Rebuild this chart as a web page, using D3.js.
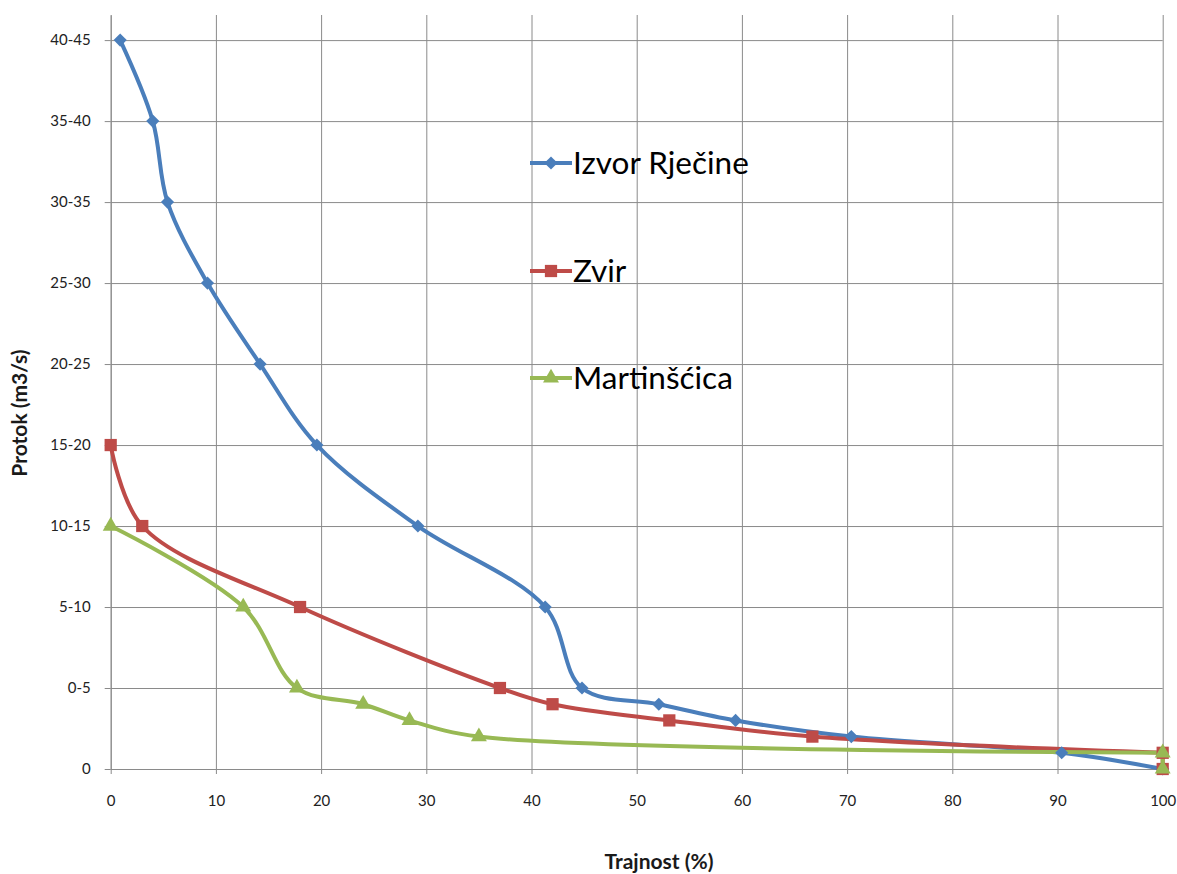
<!DOCTYPE html>
<html>
<head>
<meta charset="utf-8">
<script src="https://cdn.jsdelivr.net/npm/d3@7"></script>
<style>
  html, body { margin: 0; padding: 0; background: #ffffff; }
  svg { display: block; }
  .tick text { font-family: Lato, "Open Sans", sans-serif; font-size: 15px; fill: #222; }
</style>
</head>
<body>
<script>
// Flow duration curves: share of time (%) a flow class is reached, per spring
const seriesNames = ["Izvor Rječine", "Zvir", "Martinšćica"];

const izvorX = [0.9, 4.0, 5.4, 9.2, 14.2, 19.6, 29.2, 41.3, 44.8, 52.1, 59.4, 70.4, 90.4, 100];
const izvorY = [9, 8, 7, 6, 5, 4, 3, 2, 1, 0.8, 0.6, 0.4, 0.2, 0];

const zvirX = [0, 3.0, 18.0, 37.0, 42.0, 53.1, 66.7, 100, 100];
const zvirY = [4, 3, 2, 1, 0.8, 0.6, 0.4, 0.2, 0];

const martX = [0, 12.6, 17.7, 24.0, 28.4, 35.0, 100, 100];
const martY = [3, 2, 1, 0.8, 0.6, 0.4, 0.2, 0];

const flowClassLabels = ["0", "0-5", "5-10", "10-15", "15-20", "20-25", "25-30", "30-35", "35-40", "40-45"];
const durationTicks = [0, 10, 20, 30, 40, 50, 60, 70, 80, 90, 100];

const width = 1177, height = 874;
const margin = { left: 110.7, right: 14.3, top: 15, bottom: 105 };

const svg = d3.select("body").append("svg")
  .attr("width", width).attr("height", height);

const x = d3.scaleLinear().domain([0, 100]).range([margin.left, width - margin.right]);
const y = d3.scaleLinear().domain([0, 9.31]).range([height - margin.bottom, margin.top]);

const gridColor = "#8a8a8a";
const fontFamily = "Lato, 'Open Sans', sans-serif";

// vertical grid + x axis
const xAxis = svg.append("g")
  .attr("transform", `translate(0,${y(0)})`)
  .call(d3.axisBottom(x).tickValues(durationTicks).tickSizeInner(-(y(0) - margin.top)).tickSizeOuter(0).tickPadding(0));
xAxis.select(".domain").attr("stroke", gridColor);
xAxis.selectAll(".tick line").attr("stroke", gridColor);
xAxis.selectAll(".tick").append("line")
  .attr("y1", 0).attr("y2", 5).attr("stroke", gridColor);
xAxis.selectAll(".tick text").attr("dy", null).attr("y", 37);

// horizontal grid + y axis
const yAxis = svg.append("g")
  .attr("transform", `translate(${x(0)},0)`)
  .call(d3.axisLeft(y).tickValues(d3.range(flowClassLabels.length))
    .tickFormat(i => flowClassLabels[i])
    .tickSizeInner(-(x(100) - x(0))).tickSizeOuter(0).tickPadding(0));
yAxis.select(".domain").attr("stroke", gridColor);
yAxis.selectAll(".tick line").attr("stroke", gridColor);
yAxis.selectAll(".tick").append("line")
  .attr("x1", 0).attr("x2", -6).attr("stroke", gridColor);
yAxis.selectAll(".tick text").attr("x", -20);

// axis titles
svg.append("text")
  .attr("x", 659).attr("y", 869)
  .attr("text-anchor", "middle")
  .style("font-family", fontFamily).style("font-weight", "bold").style("font-size", "21px")
  .attr("fill", "#1a1a1a")
  .text("Trajnost (%)");

svg.append("text")
  .attr("transform", `translate(27,${413}) rotate(-90)`)
  .attr("text-anchor", "middle")
  .style("font-family", fontFamily).style("font-weight", "bold").style("font-size", "21px")
  .attr("fill", "#1a1a1a")
  .text("Protok (m3/s)");

const series = [
  { name: seriesNames[0], xs: izvorX, ys: izvorY, color: "#4a7ebb", marker: "diamond" },
  { name: seriesNames[1], xs: zvirX, ys: zvirY, color: "#be4b48", marker: "square" },
  { name: seriesNames[2], xs: martX, ys: martY, color: "#98b954", marker: "triangle" }
];

// smoothed lines (centripetal Catmull-Rom avoids loops between unevenly spaced points)
const smooth = d3.line().x(d => x(d[0])).y(d => y(d[1])).curve(d3.curveCatmullRom.alpha(0.5));
const straight = d3.line().x(d => x(d[0])).y(d => y(d[1]));

const symbolOf = {
  diamond: d3.symbol().type(d3.symbolDiamond2).size(110),
  square: d3.symbol().type(d3.symbolSquare).size(150),
  triangle: d3.symbol().type(d3.symbolTriangle).size(110)
};

series.forEach(s => {
  const pts = s.xs.map((v, i) => [v, s.ys[i]]);
  // a run of points sharing the last x value is a vertical drop: keep it straight
  let cut = pts.length;
  while (cut > 1 && pts[cut - 2][0] === pts[pts.length - 1][0]) cut--;
  const smoothPart = pts.slice(0, cut);
  const dropPart = pts.slice(cut - 1);
  [[smoothPart, smooth], [dropPart, straight]].forEach(([part, gen]) => {
    if (part.length < 2) return;
    svg.append("path")
      .datum(part)
      .attr("d", gen)
      .attr("fill", "none")
      .attr("stroke", s.color)
      .attr("stroke-width", 4)
      .attr("stroke-linejoin", "round");
  });
});

series.forEach(s => {
  const pts = s.xs.map((v, i) => [v, s.ys[i]]);
  svg.append("g").selectAll("path")
    .data(pts)
    .join("path")
    .attr("transform", d => `translate(${x(d[0])},${y(d[1])})`)
    .attr("d", symbolOf[s.marker]())
    .attr("fill", s.color);
});

// legend
const legendY = [163, 271, 378];
series.forEach((s, i) => {
  const g = svg.append("g").attr("transform", `translate(530,${legendY[i]})`);
  g.append("line").attr("x1", 0).attr("x2", 42).attr("y1", 0).attr("y2", 0)
    .attr("stroke", s.color).attr("stroke-width", 4);
  g.append("path").attr("transform", "translate(21,0)").attr("d", symbolOf[s.marker]()).attr("fill", s.color);
  g.append("text").attr("x", 43).attr("y", 11)
    .style("font-family", fontFamily).style("font-size", "31.5px")
    .attr("fill", "#000")
    .text(s.name);
});
</script>
</body>
</html>
